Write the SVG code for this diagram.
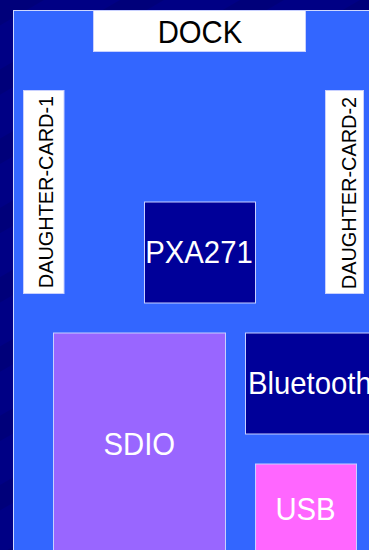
<svg xmlns="http://www.w3.org/2000/svg" width="369" height="550" viewBox="0 0 369 550">
<defs>
<pattern id="stripes" width="60" height="60" patternUnits="userSpaceOnUse" patternTransform="rotate(-30)">
<rect width="60" height="60" fill="#000085"/>
<rect width="60" height="22" fill="#00007a"/>
</pattern>
</defs>
<style>
.box{stroke:#c8d0ff;stroke-width:1}
.t{font-family:"Liberation Sans",Arial,sans-serif;font-size:29.3px}
.w{fill:#ffffff}
.k{fill:#000000}
.v{font-family:"Liberation Sans",Arial,sans-serif;font-size:19.9px;fill:#000000}
</style>
<rect width="369" height="550" fill="url(#stripes)"/>
<g id="board">
<rect x="13.5" y="10.5" width="370" height="560" fill="#3366ff" stroke="#d0d8ff" stroke-width="1"/>
</g>
<g id="connectors"></g>
<g id="dock">
<rect class="box" x="93.5" y="10.5" width="212" height="41" fill="#ffffff"/>
<text class="t k" transform="translate(200,43.3) scale(1,1.04)" text-anchor="middle">DOCK</text>
</g>
<g id="daughter-card-1">
<rect class="box" x="23.5" y="90.5" width="40.5" height="203" fill="#ffffff"/>
<text class="v" transform="translate(53,192) rotate(-90) scale(1,1.06)" text-anchor="middle">DAUGHTER-CARD-1</text>
</g>
<g id="daughter-card-2">
<rect class="box" x="325.5" y="90.5" width="38" height="203" fill="#ffffff"/>
<text class="v" transform="translate(355.5,193) rotate(-90) scale(1,1.06)" text-anchor="middle">DAUGHTER-CARD-2</text>
</g>
<g id="pxa271">
<rect class="box" x="144.5" y="202" width="111" height="101" fill="#000099"/>
<text class="t w" transform="translate(199,263.3) scale(1,1.04)" text-anchor="middle">PXA271</text>
</g>
<g id="sdio">
<rect class="box" x="53.5" y="333" width="172" height="230" fill="#9966ff"/>
<text class="t w" transform="translate(139.3,455) scale(1,1.04)" text-anchor="middle">SDIO</text>
</g>
<g id="bluetooth">
<rect class="box" x="245.5" y="333" width="140" height="101" fill="#000099"/>
<text class="t w" transform="translate(248,394) scale(1,1.04)">Bluetooth</text>
</g>
<g id="usb">
<rect class="box" x="255.5" y="464" width="101" height="100" fill="#ff66ff"/>
<text class="t w" transform="translate(305.5,520) scale(1,1.04)" text-anchor="middle">USB</text>
</g>
</svg>
